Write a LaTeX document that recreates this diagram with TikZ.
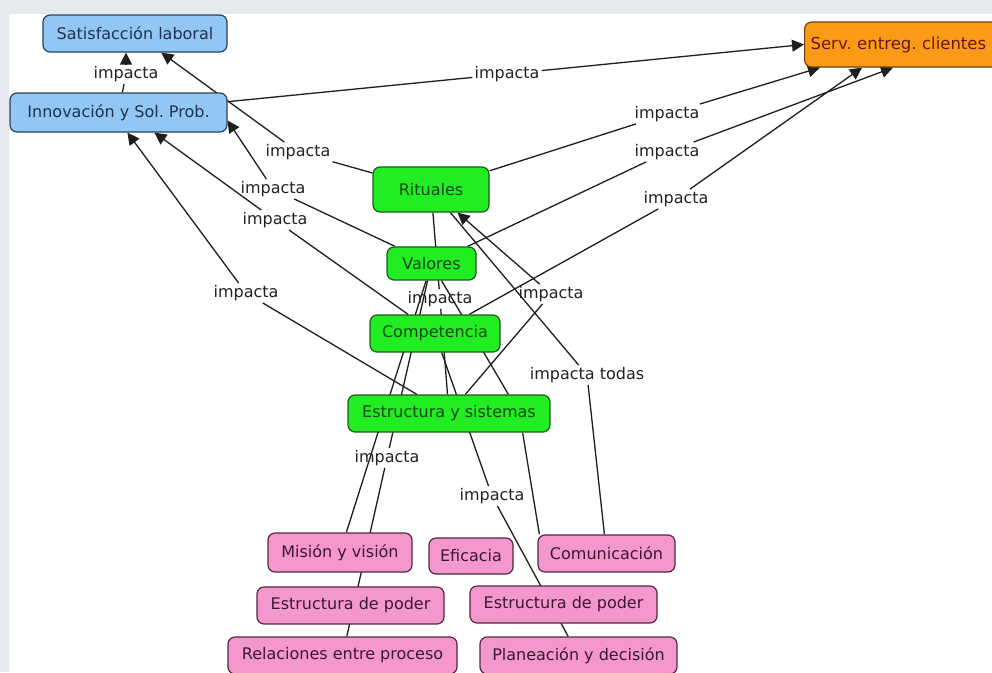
\documentclass[tikz,border=0pt]{standalone}
\usepackage{fontspec}
\setmainfont{DejaVu Sans}
\usetikzlibrary{arrows.meta,calc}
\pgfdeclarelayer{bg}
\pgfdeclarelayer{edges}
\pgfsetlayers{bg,edges,main}
\definecolor{bgGrey}{HTML}{E6E9ED}
\definecolor{blueF}{HTML}{92C7F4}
\definecolor{blueD}{HTML}{2E3F58}
\definecolor{blueT}{HTML}{1E3150}
\definecolor{greenF}{HTML}{22EC22}
\definecolor{greenD}{HTML}{1E5A1E}
\definecolor{greenT}{HTML}{124A12}
\definecolor{orangeF}{HTML}{FB9A16}
\definecolor{orangeD}{HTML}{6E4210}
\definecolor{orangeT}{HTML}{641A08}
\definecolor{pinkF}{HTML}{F497CD}
\definecolor{pinkD}{HTML}{55283F}
\definecolor{pinkT}{HTML}{3C1830}
\definecolor{lineC}{HTML}{1E1E1E}
\definecolor{lblT}{HTML}{222222}
\frenchspacing
\begin{document}
\begin{tikzpicture}[x=1pt,y=-1pt,
  concept/.style={draw, rounded corners=7pt, line width=1.2pt, inner sep=0pt,
    align=center, font=\fontsize{16}{19}\selectfont},
  cblue/.style={concept, fill=blueF, draw=blueD, text=blueT},
  cgreen/.style={concept, fill=greenF, draw=greenD, text=greenT},
  corange/.style={concept, fill=orangeF, draw=orangeD, text=orangeT},
  cpink/.style={concept, fill=pinkF, draw=pinkD, text=pinkT},
  lbl/.style={inner sep=2pt, font=\fontsize{16}{19}\selectfont, text=lblT},
  link/.style={draw=lineC, line width=1.3pt},
  arr/.style={link, -{Triangle[length=12pt,width=12pt]}},
]
\useasboundingbox (0,0) rectangle (992,672);
\begin{pgfonlayer}{bg}
  \fill[bgGrey] (0,0) rectangle (992,672);
  \fill[white] (9,14) rectangle (992,672);
\end{pgfonlayer}

% concepts
\node[cblue, minimum width=184pt, minimum height=37pt] (sat) at (135,33.5) {Satisfacción laboral};
\node[cblue, minimum width=217pt, minimum height=39pt] (innov) at (118.5,112.5) {Innovación y Sol. Prob.};
\node[corange, minimum width=196pt, minimum height=45pt, anchor=west, text width=184pt, align=left, font=\fontsize{16.5}{19}\selectfont] (serv) at (804,44.5) {Serv. entreg. clientes};
\node[cgreen, minimum width=116pt, minimum height=45pt] (rit) at (431,189.5) {Rituales};
\node[cgreen, minimum width=89pt, minimum height=33pt] (val) at (431.5,263.5) {Valores};
\node[cgreen, minimum width=130pt, minimum height=37pt] (comp) at (435,333.5) {Competencia};
\node[cgreen, minimum width=202pt, minimum height=37pt] (est) at (449,413.5) {Estructura y sistemas};
\node[cpink, minimum width=144pt, minimum height=39pt] (mis) at (340,552.5) {Misión y visión};
\node[cpink, minimum width=84pt, minimum height=36pt] (efi) at (471,556) {Eficacia};
\node[cpink, minimum width=137pt, minimum height=37pt] (com) at (606.5,553.5) {Comunicación};
\node[cpink, minimum width=187pt, minimum height=37pt] (ep1) at (350.5,605.5) {Estructura de poder};
\node[cpink, minimum width=187pt, minimum height=37pt] (ep2) at (563.5,604.5) {Estructura de poder};
\node[cpink, minimum width=229pt, minimum height=37pt] (rel) at (342.5,655.5) {Relaciones entre proceso};
\node[cpink, minimum width=197pt, minimum height=37pt] (pla) at (578.5,655.5) {Planeación y decisión};

% linking phrases
\node[lbl] (lA) at (126,74) {impacta};
\node[lbl] (lB) at (507,74) {impacta};
\node[lbl] (lC) at (298,152) {impacta};
\node[lbl] (lD) at (273,189) {impacta};
\node[lbl] (lE) at (275,220) {impacta};
\node[lbl] (lF) at (246,293) {impacta};
\node[lbl] (lG) at (667,114) {impacta};
\node[lbl] (lH) at (667,152) {impacta};
\node[lbl] (lI) at (676,199) {impacta};
\node[lbl] (lJ) at (440,299) {impacta};
\node[lbl] (lK) at (551,294) {impacta};
\node[lbl] (lL) at (587,375) {impacta todas};
\node[lbl] (lM) at (387,458) {impacta};
\node[lbl] (lN) at (492,496) {impacta};

\begin{pgfonlayer}{edges}
  \draw[link] (innov) -- (lA);
  \draw[arr] (lA) -- (lA.north |- sat.south);
  \draw[link] (innov) -- (lB);
  \draw[arr] (lB) -- (serv.west);
  \draw[link] (rit) -- (lC);
  \draw[arr] (lC) -- (sat);
  \draw[link] (val) -- (lD);
  \draw[arr] (lD) -- ($(innov.east)+(0,8)$);
  \draw[link] (comp) -- (lE);
  \draw[arr] (lE) -- ($(innov.south west)+(145,0)$);
  \draw[link] (est) -- (lF);
  \draw[arr] (lF) -- ($(innov.south west)+(118,0)$);
  \draw[link] (rit) -- (lG);
  \draw[arr] (lG) -- ($(serv.south west)+(16,0)$);
  \draw[link] (val) -- (lH);
  \draw[arr] (lH) -- ($(serv.south west)+(89,0)$);
  \draw[link] (comp) -- (lI);
  \draw[arr] (lI) -- ($(serv.south west)+(58,0)$);
  \draw[link] (rit) -- (lJ);
  \draw[link] (lJ) -- (est);
  \draw[link] (val) -- (lM);
  \draw[link] (lM) -- (rel);
  \draw[link] (val) -- (mis);
  \draw[link] (val) -- ($(est.north west)+(161,0)$);
  \draw[link] (comp) -- (lN);
  \draw[link] (lN) -- (pla);
  \draw[link] ($(est.south east)+(-28,0)$) -- ($(com.north west)+(2,0)$);
  \draw[link] (est) -- (lK);
  \draw[arr] (lK) -- (rit);
  \draw[link] (com) -- (lL);
  \draw[link] (lL) -- (rit);
\end{pgfonlayer}
\end{tikzpicture}
\end{document}
